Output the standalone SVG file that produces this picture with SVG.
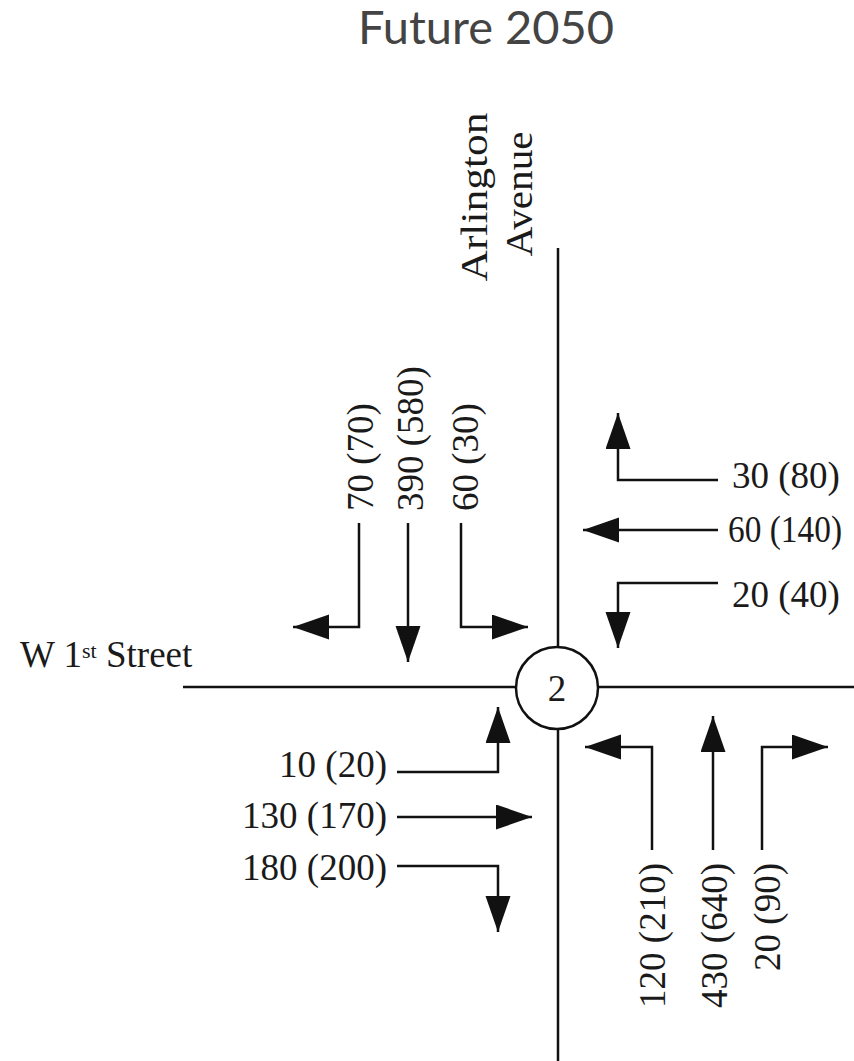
<svg xmlns="http://www.w3.org/2000/svg" width="854" height="1061" viewBox="0 0 854 1061">
<style>
.road{stroke:#111;stroke-width:2.5;fill:none}
.arr{stroke:#111;stroke-width:2.5;fill:none;marker-end:url(#ah)}
.lbl{font-family:"Liberation Serif","Times New Roman",serif;font-size:37px;fill:#1a1a1a}
.title{font-family:Lato,"Open Sans",sans-serif;font-size:47px;fill:#444}
</style>
<defs>
<marker id="ah" markerUnits="userSpaceOnUse" markerWidth="38" markerHeight="26" refX="36" refY="12.5" orient="auto">
<path d="M0,0 L36,12.5 L0,25 z" fill="#111"/>
</marker>
</defs>
<rect width="854" height="1061" fill="#fff"/>
<text class="title" x="486" y="44" text-anchor="middle">Future 2050</text>

<g id="roads">
<line class="road" x1="558" y1="248" x2="558" y2="1061"/>
<line class="road" x1="183" y1="687" x2="854" y2="687"/>
</g>
<g id="street-names">
<text class="lbl" font-size="38" transform="translate(487,197) rotate(-90)" text-anchor="middle" textLength="169" lengthAdjust="spacingAndGlyphs">Arlington</text>
<text class="lbl" font-size="38" transform="translate(532,194) rotate(-90)" text-anchor="middle" textLength="125" lengthAdjust="spacingAndGlyphs">Avenue</text>
<text class="lbl" x="20" y="667">W 1<tspan font-size="22" dy="-9">st</tspan><tspan dy="9"> Street</tspan></text>
</g>
<g id="node-2">
<circle cx="557" cy="688" r="41" fill="#fff" stroke="#111" stroke-width="2.5"/>
<text class="lbl" x="557" y="701" text-anchor="middle">2</text>
</g>

<g id="connectors">
<path class="arr" d="M718,480 H618 V413"/>
<path class="arr" d="M718,530 H583"/>
<path class="arr" d="M718,583 H618 V648"/>
<path class="arr" d="M359,523 V627 H293"/>
<path class="arr" d="M408,523 V662"/>
<path class="arr" d="M461,523 V627 H528"/>
<path class="arr" d="M397,772 H498 V707"/>
<path class="arr" d="M397,817 H532"/>
<path class="arr" d="M397,866 H498 V932"/>
<path class="arr" d="M652,850 V747 H585"/>
<path class="arr" d="M713,850 V716"/>
<path class="arr" d="M762,850 V747 H828"/>
</g>

<g id="east-labels">
<text class="lbl" x="732" y="488">30 (80)</text>
<text class="lbl" x="728" y="542" textLength="114" lengthAdjust="spacingAndGlyphs">60 (140)</text>
<text class="lbl" x="732" y="607">20 (40)</text>
</g>
<g id="north-labels">
<text class="lbl" transform="translate(373,511) rotate(-90)">70 (70)</text>
<text class="lbl" transform="translate(423,511) rotate(-90)">390 (580)</text>
<text class="lbl" transform="translate(478,511) rotate(-90)">60 (30)</text>
</g>
<g id="west-labels">
<text class="lbl" x="387" y="777" text-anchor="end">10 (20)</text>
<text class="lbl" x="387" y="828" text-anchor="end">130 (170)</text>
<text class="lbl" x="387" y="880" text-anchor="end">180 (200)</text>
</g>
<g id="south-labels">
<text class="lbl" transform="translate(665,863) rotate(-90)" text-anchor="end">120 (210)</text>
<text class="lbl" transform="translate(727,863) rotate(-90)" text-anchor="end">430 (640)</text>
<text class="lbl" transform="translate(780,863) rotate(-90)" text-anchor="end">20 (90)</text>
</g>
</svg>
